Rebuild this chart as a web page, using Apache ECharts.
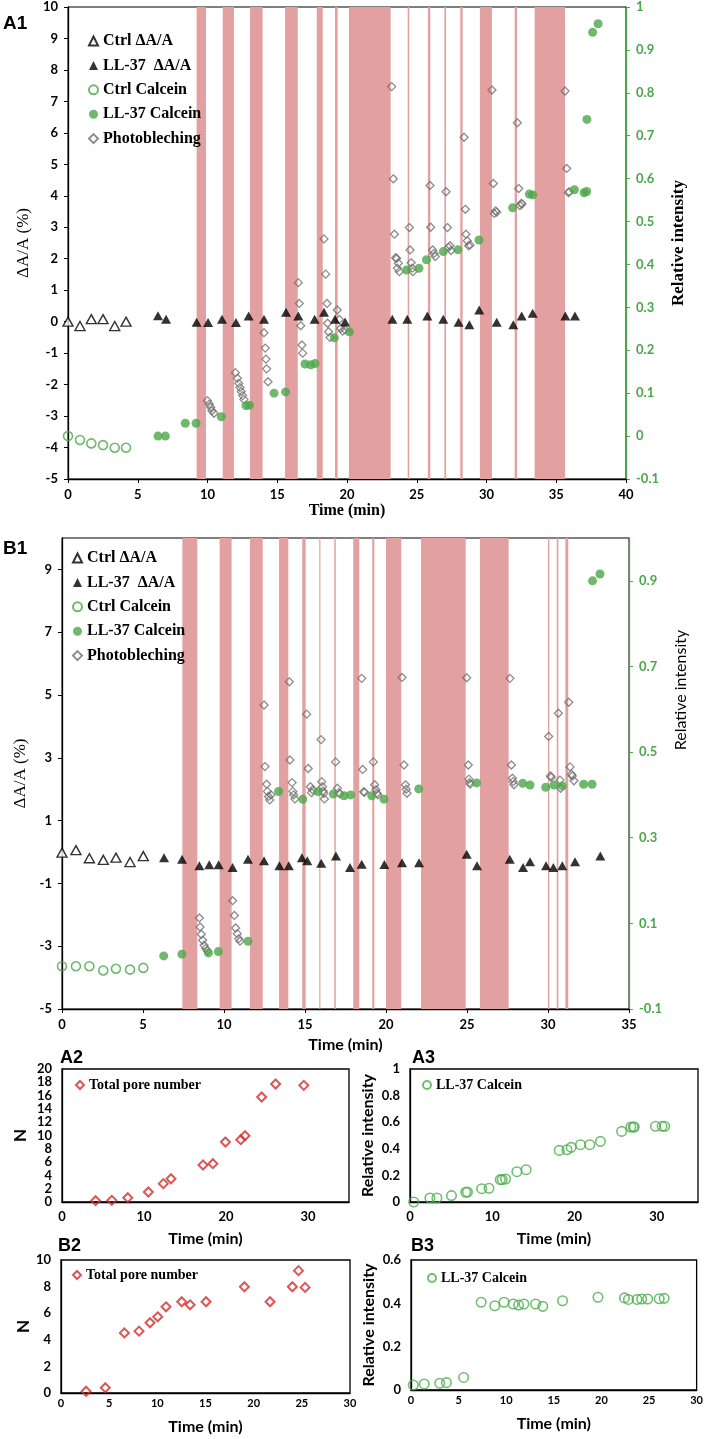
<!DOCTYPE html>
<html><head><meta charset="utf-8">
<script src="https://cdn.jsdelivr.net/npm/echarts@6/dist/echarts.min.js"></script>
<style>html,body{margin:0;padding:0;background:#fff}#c{width:706px;height:1439px}</style>
</head><body><div id="c"></div>
<script>
// ---------- A1 data ----------
const a1Bands = [[9.22,9.89],[11.09,11.9],[13.05,13.95],[15.56,16.47],[17.83,18.26],[19.14,19.33],[20.14,23.13],[24.35,24.46],[25.8,25.97],[26.98,27.1],[28.12,28.29],[29.53,30.39],[32.02,32.19],[33.45,35.63]];
const a1CtrlDA = [[0,0],[0.86,-0.14],[1.67,0.08],[2.51,0.08],[3.35,-0.14],[4.16,0]];
const a1LLDA = [[6.45,0.19],[7.03,0.08],[9.22,-0.02],[10.04,-0.03],[11.04,0.08],[12.04,-0.03],[12.95,0.18],[14.05,0.08],[15.63,0.3],[16.51,0.18],[17.68,0.08],[18.35,0.3],[19.14,0.08],[19.86,-0.01],[23.25,0.08],[24.32,0.08],[25.76,0.18],[26.9,0.08],[28.0,-0.02],[28.77,-0.1],[29.48,0.37],[30.73,-0.02],[31.92,-0.1],[32.52,0.18],[33.31,0.27],[35.65,0.18],[36.34,0.18]];
const a1CtrlCal = [[0,0.0],[0.86,-0.009],[1.67,-0.017],[2.51,-0.021],[3.35,-0.027],[4.16,-0.027]];
const a1LLCal = [[6.45,0.0],[6.98,0.0],[8.41,0.03],[9.18,0.03],[10.99,0.045],[12.76,0.071],[13.0,0.072],[14.77,0.1],[15.6,0.103],[16.99,0.168],[17.4,0.166],[17.71,0.169],[19.09,0.229],[20.17,0.243],[24.28,0.387],[25.16,0.391],[25.7,0.411],[26.9,0.43],[27.96,0.434],[29.46,0.457],[31.87,0.532],[33.07,0.564],[33.31,0.562],[36.3,0.574],[37.0,0.567],[37.18,0.57],[37.2,0.738],[37.61,0.941],[38.0,0.961]];
const a1Photo = [[9.99,-2.51],[10.13,-2.62],[10.23,-2.72],[10.32,-2.83],[10.47,-2.91],
[12.0,-1.62],[12.14,-1.8],[12.24,-1.96],[12.33,-2.09],[12.42,-2.22],[12.52,-2.35],[12.61,-2.47],
[14.05,-0.35],[14.14,-0.84],[14.19,-1.19],[14.24,-1.5],[14.34,-1.91],
[16.51,1.24],[16.58,0.58],[16.68,-0.13],[16.77,-0.74],[16.82,-1.0],
[18.35,2.63],[18.47,1.51],[18.57,0.58],[18.61,-0.05],[18.68,-0.32],[18.78,-0.5],
[19.3,0.37],[19.45,0.07],[19.55,-0.21],[19.69,-0.3],[19.86,-0.26],
[23.2,7.47],[23.32,4.54],[23.4,2.78],[23.49,2.03],[23.56,2.01],[23.68,1.86],[23.61,1.7],[23.75,1.59],
[24.47,2.99],[24.52,2.28],[24.6,1.87],[24.68,1.7],[24.72,1.59],
[25.95,4.33],[26.0,3.0],[26.14,2.28],[26.24,2.17],[26.33,2.07],
[27.1,4.13],[27.2,2.99],[27.27,2.36],[27.38,2.41],[27.46,2.26],
[28.39,5.86],[28.48,3.57],[28.53,2.78],[28.62,2.57],[28.72,2.41],[28.82,2.44],
[30.39,7.36],[30.49,4.39],[30.56,3.44],[30.65,3.52],[30.73,3.48],
[32.21,6.32],[32.31,4.23],[32.4,3.69],[32.5,3.76],[32.54,3.74],
[35.63,7.33],[35.75,4.87],[35.87,4.1],[35.93,4.13]];

// ---------- B1 data ----------
const b1Bands = [[7.43,8.35],[9.73,10.47],[11.6,12.39],[13.4,13.97],[14.83,15.04],[15.88,15.95],[16.81,16.9],[17.98,18.35],[19.15,19.28],[20.0,20.94],[22.16,24.92],[25.8,27.57],[30.0,30.08],[30.54,30.64],[31.07,31.25]];
const b1CtrlDA = [[0,-0.02],[0.86,0.06],[1.69,-0.2],[2.55,-0.25],[3.33,-0.18],[4.2,-0.32],[5.02,-0.13]];
const b1LLDA = [[6.3,-0.18],[7.41,-0.23],[8.48,-0.44],[9.09,-0.41],[9.67,-0.41],[10.53,-0.49],[11.48,-0.23],[12.47,-0.28],[13.42,-0.44],[14.0,-0.44],[14.81,-0.18],[15.14,-0.28],[16.0,-0.36],[16.91,-0.13],[17.78,-0.49],[18.5,-0.39],[19.9,-0.4],[20.99,-0.34],[22.04,-0.34],[24.98,-0.07],[25.62,-0.44],[27.64,-0.23],[28.46,-0.49],[28.89,-0.31],[29.88,-0.44],[30.33,-0.49],[30.88,-0.44],[31.67,-0.31],[33.23,-0.13]];
const b1CtrlCal = [[0,0.0],[0.86,0.0],[1.69,0.0],[2.55,-0.01],[3.33,-0.006],[4.2,-0.008],[5.02,-0.004]];
const b1LLCal = [[6.28,0.024],[7.4,0.028],[9.04,0.031],[9.65,0.034],[11.48,0.058],[13.37,0.408],[14.86,0.39],[15.8,0.408],[16.75,0.402],[17.41,0.398],[17.82,0.4],[19.12,0.398],[19.88,0.39],[22.02,0.414],[25.6,0.428],[28.44,0.427],[28.89,0.423],[29.86,0.418],[30.37,0.423],[30.88,0.421],[32.2,0.425],[32.72,0.425],[32.75,0.9],[33.21,0.916]];
const b1Photo = [[8.48,-2.1],[8.52,-2.39],[8.6,-2.62],[8.68,-2.81],[8.77,-2.97],[8.87,-3.07],[8.97,-3.15],
[10.53,-1.55],[10.64,-2.02],[10.72,-2.42],[10.82,-2.6],[10.91,-2.76],[10.99,-2.84],
[12.47,4.68],[12.53,2.72],[12.63,2.16],[12.68,1.93],[12.75,1.77],[12.82,1.66],[12.9,1.82],
[14.03,5.42],[14.07,2.93],[14.2,2.21],[14.25,1.93],[14.3,1.82],[14.38,1.69],
[15.1,4.39],[15.2,2.66],[15.33,2.08],[15.4,1.89],[15.47,1.98],
[15.99,3.58],[16.03,2.24],[16.08,2.08],[16.12,1.94],[16.16,1.87],[16.2,1.69],
[16.89,2.87],[17.0,2.03],[17.08,1.89],[17.16,1.85],
[18.5,5.53],[18.56,2.63],[18.62,1.92],[18.68,1.9],
[19.22,2.87],[19.3,2.14],[19.38,1.98],[19.45,1.87],[19.5,1.82],
[20.99,5.56],[21.11,2.77],[21.2,2.14],[21.25,2.0],[21.3,1.87],
[24.98,5.55],[25.08,2.77],[25.12,2.32],[25.16,2.21],[25.2,2.16],
[27.65,5.53],[27.74,2.77],[27.8,2.35],[27.85,2.24],[27.9,2.14],
[30.04,3.68],[30.15,2.42],[30.2,2.38],[30.64,4.42],[30.74,2.29],[30.78,2.03],
[31.28,4.77],[31.36,2.71],[31.45,2.48],[31.5,2.42],[31.6,2.27]];

// ---------- small panels ----------
const a2Pore = [[4.1,0.2],[6.08,0.25],[8.02,0.65],[10.53,1.5],[12.36,2.76],[13.29,3.5],[17.2,5.56],[18.4,5.76],[19.93,9.02],[21.8,9.37],[22.32,9.97],[24.35,15.79],[26.05,17.74],[29.49,17.54]];
const a3Cal = [[0.45,0],[2.42,0.03],[3.27,0.03],[5.04,0.048],[6.77,0.073],[6.98,0.075],[8.71,0.1],[9.6,0.103],[10.97,0.168],[11.21,0.168],[11.61,0.173],[12.99,0.228],[14.11,0.243],[18.14,0.388],[19.07,0.393],[19.59,0.411],[20.72,0.431],[21.85,0.431],[23.14,0.456],[25.72,0.531],[26.84,0.564],[27.13,0.564],[27.25,0.564],[29.83,0.569],[30.64,0.569],[30.96,0.569]];
const b2Pore = [[2.6,0.13],[4.6,0.4],[6.58,4.52],[8.1,4.65],[9.24,5.28],[10.04,5.73],[10.9,6.48],[12.53,6.86],[13.4,6.63],[15.06,6.86],[19.04,7.99],[21.7,6.86],[24.02,7.99],[24.65,9.2],[25.34,7.94]];
const b3Cal = [[0.24,0.023],[1.39,0.028],[3.02,0.031],[3.72,0.034],[5.53,0.058],[7.37,0.405],[8.8,0.389],[9.77,0.405],[10.74,0.397],[11.3,0.392],[11.86,0.397],[13.08,0.397],[13.84,0.386],[15.92,0.412],[19.64,0.428],[22.42,0.425],[22.84,0.418],[23.74,0.418],[24.23,0.42],[24.86,0.42],[26.07,0.421],[26.59,0.423]];

const legendNames = ['Ctrl \u0394A/A','LL-37  \u0394A/A','Ctrl Calcein','LL-37 Calcein','Photobleching'];
const smallLegend = ['Total pore number','LL-37 Calcein '];
const panelLabels = ['A1','B1','A2','A3','B2','B3'];

// ---------- styles ----------
const GREEN = '#4ca64a', BAND = '#e3a0a0', GREY = '#6f6f6f', RED = '#d22d2d', GREEN2 = '#4cae4c';
const SANS = 'Lato', SERIF = 'Liberation Serif', ARIAL = 'Liberation Sans';

const chart = echarts.init(document.getElementById('c'));

const grids = [
  {left:68, top:7, width:558, height:472},
  {left:62, top:538, width:567, height:471},
  {left:62, top:1069, width:287, height:133},
  {left:410, top:1069, width:288, height:133},
  {left:61, top:1260, width:289, height:133},
  {left:411, top:1260, width:288, height:130}
].map((g,i)=>Object.assign({show:true, borderColor:'#000', borderWidth: i<2?1:1.3, backgroundColor:'transparent'}, g));

function xAx(gi, max, interval, labelSize, nameGap, nameFont, nameSize, showMax) {
  return {type:'value', gridIndex:gi, min:0, max:max, interval:interval,
    axisLine:{show:true, onZero:false, lineStyle:{color:'#000', width:1.3}},
    axisTick:{show: gi<2, inside:false, length:4, lineStyle:{color:'#000'}},
    splitLine:{show:false},
    axisLabel:{color:'#000', fontFamily:SANS, fontWeight:'bold', fontSize:labelSize, margin: gi<2?9:(gi>=4?5:8), showMaxLabel: showMax},
    name:'Time (min)', nameLocation:'middle', nameGap:nameGap,
    nameTextStyle:{color:'#000', fontFamily:nameFont, fontWeight:'bold', fontSize:nameSize}};
}
function yAx(gi, min, max, interval, pos, color, labelSize, name, nameGap, nameFont, nameSize, nameWeight) {
  return {type:'value', gridIndex:gi, min:min, max:max, interval:interval, position:pos,
    axisLine:{show:true, onZero:false, lineStyle:{color:color, width:1.3}},
    axisTick:{show: gi<2, inside:false, length:4, lineStyle:{color:color}},
    splitLine:{show:false},
    axisLabel:{color:color, fontFamily:SANS, fontWeight:'bold', fontSize:labelSize, margin:10},
    name:name, nameLocation:'middle', nameGap:nameGap, nameRotate:90,
    nameTextStyle:{color:'#000', fontFamily:nameFont, fontWeight:nameWeight, fontSize:nameSize}};
}

const xAxes = [
  xAx(0, 40, 5, 13, 24, SERIF, 16, true),
  xAx(1, 35, 5, 13, 28, SANS, 16, true),
  xAx(2, 35, 10, 13, 29, SANS, 16, false),
  xAx(3, 35, 10, 13, 29, SANS, 16, false),
  xAx(4, 30, 5, 11, 26, SANS, 16, true),
  xAx(5, 30, 5, 11, 26, SANS, 16, true)
];
const yAxes = [
  yAx(0, -5, 10, 1, 'left', '#000', 13, '\u0394A/A (%)', 28, SERIF, 17, 'normal'),
  yAx(0, -0.1, 1, 0.1, 'right', GREEN, 13, 'Relative intensity', 44, SERIF, 17, 'bold'),
  yAx(1, -5, 10, 2, 'left', '#000', 13, '\u0394A/A (%)', 28, SERIF, 17, 'normal'),
  yAx(1, -0.1, 1, 0.2, 'right', GREEN, 13, '', 44, SANS, 16, 'normal'),
  yAx(2, 0, 20, 2, 'left', '#000', 13, 'N', 33, SANS, 17, 'bold'),
  yAx(3, 0, 1, 0.2, 'left', '#000', 13, 'Relative intensity', 34, SANS, 16, 'bold'),
  yAx(4, 0, 10, 2, 'left', '#000', 13, 'N', 28, SANS, 17, 'bold'),
  yAx(5, 0, 0.6, 0.2, 'left', '#000', 13, 'Relative intensity', 34, SANS, 16, 'bold')
];
yAxes[2].axisLabel.showMaxLabel = false;
yAxes[3].axisLabel.showMaxLabel = false;

function sc(name, data, xi, yi, symbol, size, style) {
  return {type:'scatter', name:name, data:data, xAxisIndex:xi, yAxisIndex:yi, symbol:symbol, symbolSize:size,
    itemStyle:style, z:3, emphasis:{disabled:true}, silent:true, clip:false};
}
function bands(list, xi, yi) {
  return {type:'scatter', name:'bands'+xi, data:[], xAxisIndex:xi, yAxisIndex:yi, z:1, silent:true,
    markArea:{silent:true, itemStyle:{color:BAND, opacity:1}, label:{show:false},
      data:list.map(b=>[{xAxis:b[0]},{xAxis:b[1]}])}};
}
const stCtrlDA = {color:'#fff', borderColor:'#000', borderWidth:1.4};
const stLLDA = {color:'#000'};
const stCtrlCal = {color:'rgba(255,255,255,0)', borderColor:GREEN, borderWidth:1.6};
const stLLCal = {color:GREEN};
const stPhoto = {color:'rgba(255,255,255,0)', borderColor:GREY, borderWidth:1.3};
const stPore = {color:'rgba(255,255,255,0)', borderColor:RED, borderWidth:2};
const stCal2 = {color:'rgba(255,255,255,0)', borderColor:GREEN2, borderWidth:1.6};

const series = [
  bands(a1Bands, 0, 0),
  bands(b1Bands, 1, 2),
  sc(legendNames[4], a1Photo, 0, 0, 'diamond', 8, stPhoto),
  sc(legendNames[0], a1CtrlDA, 0, 0, 'triangle', [10,9], stCtrlDA),
  sc(legendNames[1], a1LLDA, 0, 0, 'triangle', [10,9], stLLDA),
  sc(legendNames[2], a1CtrlCal, 0, 1, 'circle', 9, stCtrlCal),
  sc(legendNames[3], a1LLCal, 0, 1, 'circle', 9, stLLCal),
  sc(legendNames[4], b1Photo, 1, 2, 'diamond', 8, stPhoto),
  sc(legendNames[0], b1CtrlDA, 1, 2, 'triangle', [10,9], stCtrlDA),
  sc(legendNames[1], b1LLDA, 1, 2, 'triangle', [10,9], stLLDA),
  sc(legendNames[2], b1CtrlCal, 1, 3, 'circle', 9, stCtrlCal),
  sc(legendNames[3], b1LLCal, 1, 3, 'circle', 9, stLLCal),
  sc(smallLegend[0], a2Pore, 2, 4, 'diamond', 9, stPore),
  sc(smallLegend[1], a3Cal, 3, 5, 'circle', 9.5, stCal2),
  sc(smallLegend[0], b2Pore, 4, 6, 'diamond', 9, stPore),
  sc(smallLegend[1], b3Cal, 5, 7, 'circle', 9.5, stCal2)
];

const legendText = {color:'#000', fontFamily:SERIF, fontWeight:'bold', fontSize:16, lineHeight:16};
const icons = ['triangle','triangle','circle','circle','diamond'];
function bigLegend(left, top) {
  return {orient:'vertical', left:left, top:top, itemWidth:9, itemHeight:9, itemGap:8.4, selectedMode:false,
    textStyle:legendText, data:legendNames.map((n,i)=>({name:n, icon:icons[i]}))};
}
function smallLeg(name, icon, left, top) {
  return {orient:'vertical', left:left, top:top, itemWidth:8, itemHeight:8, itemGap:4, selectedMode:false,
    textStyle:{color:'#000', fontFamily:SERIF, fontWeight:'bold', fontSize:14},
    data:[{name:name, icon:icon}]};
}
const legends = [
  bigLegend(83, 28),
  bigLegend(67, 545),
  smallLeg(smallLegend[0], 'diamond', 70, 1073),
  smallLeg(smallLegend[1], 'circle', 417, 1073),
  smallLeg(smallLegend[0], 'diamond', 67, 1263),
  smallLeg(smallLegend[1], 'circle', 422, 1266)
];

const labelPos = [[3,14],[3,539],[60,1049],[412,1049],[58,1237],[411,1237]];
const graphics = panelLabels.map((t,i)=>({type:'text', left:labelPos[i][0], top:labelPos[i][1],
  style:{text:t, font:'bold '+(i<2?'19px ':'18px ')+ARIAL, fill:'#000'}}));
graphics.push({type:'text', x:681, y:690, rotation:Math.PI/2, silent:true,
  style:{text:'Relative intensity', font:'16px '+SANS, fill:'#000', align:'center', verticalAlign:'middle'}});

chart.setOption({
  animation:false,
  grid:grids, xAxis:xAxes, yAxis:yAxes, series:series, legend:legends, graphic:graphics
});
</script></body></html>
